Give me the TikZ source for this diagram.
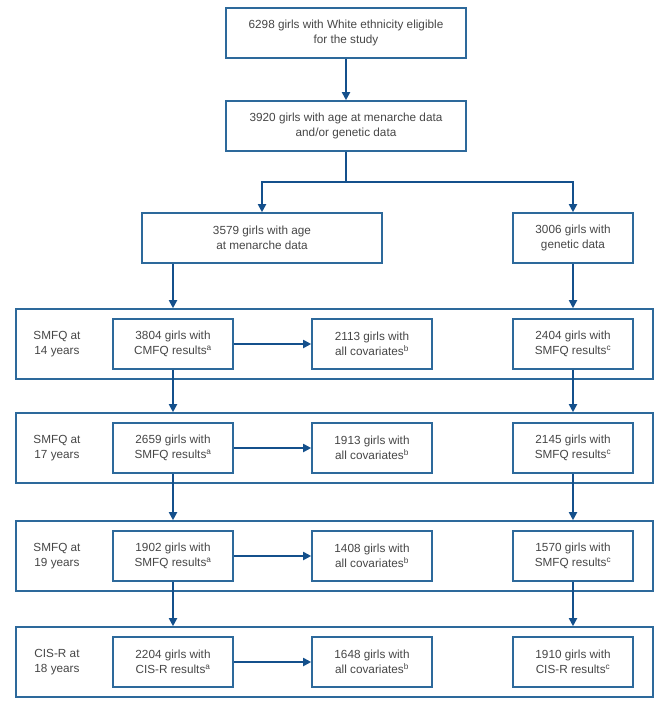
\documentclass[tikz,border=0pt]{standalone}
\usepackage{fontspec}
\setmainfont{Liberation Sans}
\usetikzlibrary{arrows.meta}
\definecolor{boxblue}{RGB}{45,105,155}
\definecolor{arrowblue}{RGB}{20,80,140}
\definecolor{txtgray}{RGB}{70,70,70}

\begin{document}
\begin{tikzpicture}[x=1bp,y=-1bp,
	box/.style={draw=boxblue, line width=1.6bp, text=txtgray, align=center, inner sep=0pt, minimum height=50bp},
	row/.style={draw=boxblue, line width=1.6bp, minimum width=637bp, minimum height=70bp, inner sep=0pt},
	lbl/.style={text=txtgray, align=center, inner sep=0pt},
	link/.style={draw=arrowblue, line width=1.8bp, -{Triangle[length=8bp,width=8bp]}}]
	\fontsize{11.8}{14.5}\selectfont
	\useasboundingbox (0,0) rectangle (671,706);
	
	\node[box, minimum width=240bp] (E) at (346,33) {6298 girls with White ethnicity eligible\\for the study};
	\node[box, minimum width=240bp] (D) at (346,126) {3920 girls with age at menarche data\\and/or genetic data};
	\node[box, minimum width=240bp] (M) at (262,238) {3579 girls with age\\at menarche data};
	\node[box, minimum width=120bp] (G) at (573,238) {3006 girls with\\genetic data};
	\coordinate (S) at (346,182);
	
	% rows
	\node[row] (R1) at (334.5,344) {};
	\node[row] (R2) at (334.5,448) {};
	\node[row] (R3) at (334.5,556) {};
	\node[row] (R4) at (334.5,662) {};
	
	\node[lbl] (L1) at (57,344) {SMFQ at\\14 years};
	\node[lbl] (L2) at (57,448) {SMFQ at\\17 years};
	\node[lbl] (L3) at (57,556) {SMFQ at\\19 years};
	\node[lbl] (L4) at (57,662) {CIS-R at\\18 years};
	
	\node[box, minimum width=120bp] (A1) at (173,344) {3804 girls with\\CMFQ results\textsuperscript{a}};
	\node[box, minimum width=120bp] (A2) at (173,448) {2659 girls with\\SMFQ results\textsuperscript{a}};
	\node[box, minimum width=120bp] (A3) at (173,556) {1902 girls with\\SMFQ results\textsuperscript{a}};
	\node[box, minimum width=120bp] (A4) at (173,662) {2204 girls with\\CIS-R results\textsuperscript{a}};
	
	\node[box, minimum width=120bp] (B1) at (372,344) {2113 girls with\\all covariates\textsuperscript{b}};
	\node[box, minimum width=120bp] (B2) at (372,448) {1913 girls with\\all covariates\textsuperscript{b}};
	\node[box, minimum width=120bp] (B3) at (372,556) {1408 girls with\\all covariates\textsuperscript{b}};
	\node[box, minimum width=120bp] (B4) at (372,662) {1648 girls with\\all covariates\textsuperscript{b}};
	
	\node[box, minimum width=120bp] (C1) at (573,344) {2404 girls with\\SMFQ results\textsuperscript{c}};
	\node[box, minimum width=120bp] (C2) at (573,448) {2145 girls with\\SMFQ results\textsuperscript{c}};
	\node[box, minimum width=120bp] (C3) at (573,556) {1570 girls with\\SMFQ results\textsuperscript{c}};
	\node[box, minimum width=120bp] (C4) at (573,662) {1910 girls with\\CIS-R results\textsuperscript{c}};
	
	% arrows
	\draw[link] (E) -- (D);
	\draw[arrowblue, line width=1.8bp] (D.south) -- (S);
	\draw[link] (S) -| (M.north);
	\draw[link] (S) -| (G.north);
	\draw[link] (M.south -| A1.south) -- (R1.north -| A1.north);
	\draw[link] (G) -- (R1.north -| G.south);
	
	\draw[link] (A1) -- (B1);
	\draw[link] (A2) -- (B2);
	\draw[link] (A3) -- (B3);
	\draw[link] (A4) -- (B4);
	
	\draw[link] (A1) -- (R2.north -| A1.south);
	\draw[link] (A2) -- (R3.north -| A2.south);
	\draw[link] (A3) -- (R4.north -| A3.south);
	\draw[link] (C1) -- (R2.north -| C1.south);
	\draw[link] (C2) -- (R3.north -| C2.south);
	\draw[link] (C3) -- (R4.north -| C3.south);
\end{tikzpicture}
\end{document}
